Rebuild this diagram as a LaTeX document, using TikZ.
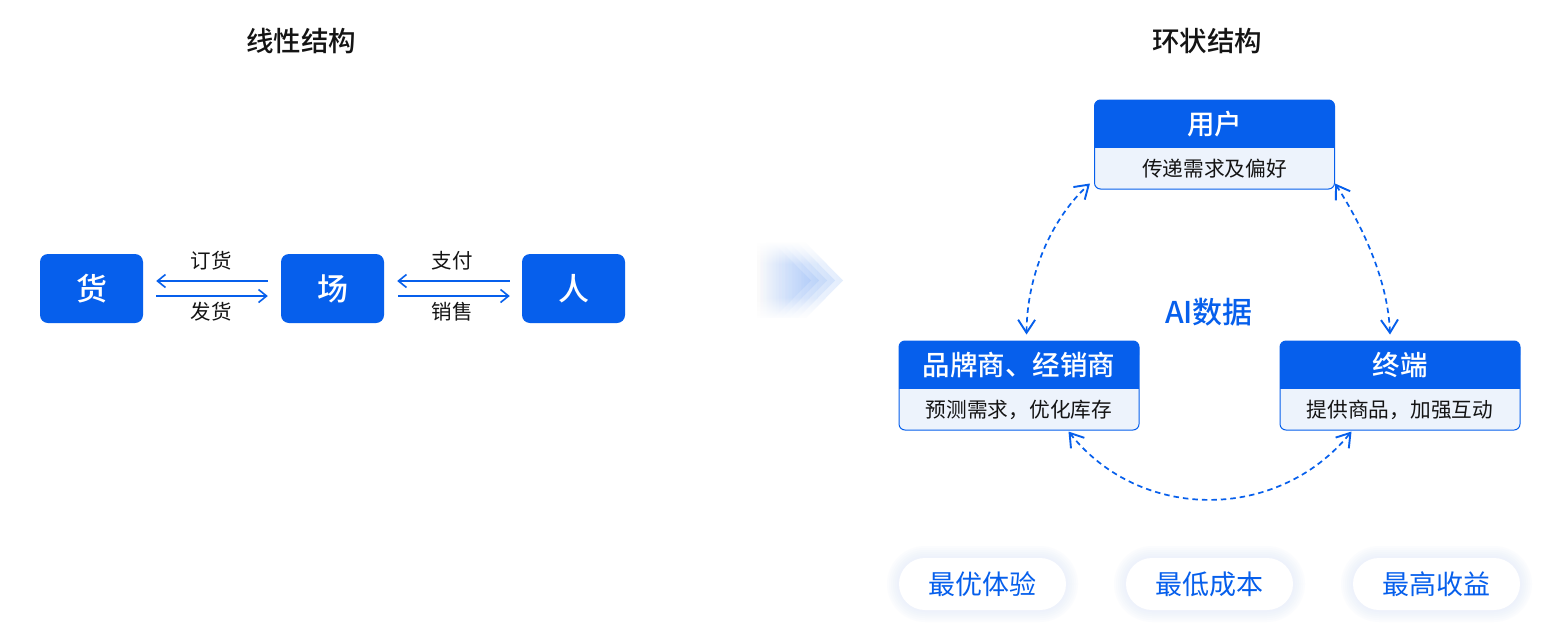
\documentclass[tikz,border=0pt]{standalone}
\usepackage{fontspec}
\setmainfont{Noto Sans CJK SC}
\newfontfamily\medfont{Noto Sans CJK SC Medium}
\usetikzlibrary{arrows.meta,fadings,calc}
\definecolor{brand}{HTML}{065FEC}
\definecolor{pale}{HTML}{EDF3FC}
\definecolor{ink}{HTML}{141414}
\definecolor{glow}{HTML}{DCE6FB}
\tikzset{
  title/.style={font=\fontsize{27.5}{27.5}\selectfont\medfont,text=ink},
  solidbox/.style={fill=brand,rounded corners=8,minimum width=103,minimum height=69,inner sep=0,text=white,font=\fontsize{31}{31}\selectfont\medfont},
  lbl/.style={font=\fontsize{20.5}{20.5}\selectfont,text=ink},
  flow/.style={draw=brand,line width=1.4,-{Straight Barb[length=8,width=13,line width=1.6]}},
  loop/.style={draw=brand,line width=1.7,dash pattern=on 5.5 off 4,{Straight Barb[length=13,width=17,line width=1.9]}-{Straight Barb[length=13,width=17,line width=1.9]}},
  cardbody/.style={draw=brand,line width=1,fill=pale,rounded corners=6,minimum width=240,minimum height=89,inner sep=0},
  cardhead/.style={text=white,font=\fontsize{27.5}{27.5}\selectfont\medfont},
  cardsub/.style={font=\fontsize{20.7}{20.7}\selectfont,text=ink},
  pill/.style={fill=white,rounded corners=26,minimum width=167,minimum height=52,inner sep=0,text=brand,font=\fontsize{27}{27}\selectfont},
}
\newcommand{\card}[5]{% name, cx, top, head, sub
  \node[cardbody] (#1) at (#2,#3+44.5) {};
  \fill[brand,rounded corners=6] (#2-120,#3) rectangle (#2+120,#3+20);
  \fill[brand] (#2-120,#3+10) rectangle (#2+120,#3+48);
  \node[cardhead] (#1h) at (#2,#3+24) {#4};
  \node[cardsub] (#1s) at (#2,#3+69) {#5};
}
\newcommand{\pillglow}[2]{%
  \foreach \g in {12,10,8,6,4,2}{
    \fill[glow,opacity=0.09,rounded corners=26+\g] (#1-83.5-\g,#2-26-\g) rectangle (#1+83.5+\g,#2+26+\g);
  }
}
\begin{document}
\begin{tikzpicture}[x=1pt,y=-1pt]
\useasboundingbox (0,0) rectangle (1550,640);
\fill[white] (0,0) rectangle (1550,640);
% titles
\node[title] (t1) at (301,41) {线性结构};
\node[title] (t2) at (1207,41) {环状结构};
% left row
\node[solidbox] (huo) at (91.5,288.5) {\raisebox{-1pt}{货}};
\node[solidbox] (chang) at (332.5,288.5) {\raisebox{-1pt}{场}};
\node[solidbox] (ren) at (573.5,288.5) {\raisebox{-1pt}{人}};
\draw[flow] ([xshift=-13,yshift=7.5]chang.west) -- ([xshift=13,yshift=7.5]huo.east);
\draw[flow] ([xshift=13,yshift=-7.5]huo.east) -- ([xshift=-13,yshift=-7.5]chang.west);
\draw[flow] ([xshift=-12,yshift=7.5]ren.west) -- ([xshift=13,yshift=7.5]chang.east);
\draw[flow] ([xshift=14,yshift=-7.5]chang.east) -- ([xshift=-12,yshift=-7.5]ren.west);
\node[lbl] (l1) at (211,261) {订货};
\node[lbl] (l2) at (211,312) {发货};
\node[lbl] (l3) at (452,261) {支付};
\node[lbl] (l4) at (452,312) {销售};
% chevrons
\foreach \t/\o in {843/0.11,835/0.09,827/0.08,819/0.08,811/0.07}{
  \fill[brand,opacity=\o,path fading=west] (755,243) -- (\t-37,243) -- (\t,280.5) -- (\t-37,318) -- (755,318) -- cycle;
}
\fill[white,path fading=south] (750,241) rectangle (850,264);
\fill[white,path fading=north] (750,297) rectangle (850,320);
% cards
\card{user}{1214.5}{100}{用户}{传递需求及偏好}
\card{brandc}{1019}{341}{品牌商、经销商}{预测需求，优化库存}
\card{term}{1400}{341}{终端}{提供商品，加强互动}
% loop connectors
\draw[loop] ([xshift=128,yshift=6]brandc.north west) .. controls (1027,270) and (1055,215) .. ([xshift=-4,yshift=6]user.south west);
\draw[loop] ([xshift=0,yshift=6]user.south east) .. controls (1362,225) and (1388,280) .. ([xshift=-10,yshift=6]term.north);
\draw[loop] ([xshift=-71,yshift=-1]brandc.south east) .. controls (1140,522) and (1278,522) .. ([xshift=72,yshift=-1]term.south west);
\node[text=brand,font=\fontsize{30}{30}\selectfont\medfont] (ai) at (1209,312) {AI数据};
% pills
\pillglow{982.5}{584}
\pillglow{1209.5}{584}
\pillglow{1436.5}{584}
\node[pill] (p1) at (982.5,584) {最优体验};
\node[pill] (p2) at (1209.5,584) {最低成本};
\node[pill] (p3) at (1436.5,584) {最高收益};
\end{tikzpicture}
\end{document}
